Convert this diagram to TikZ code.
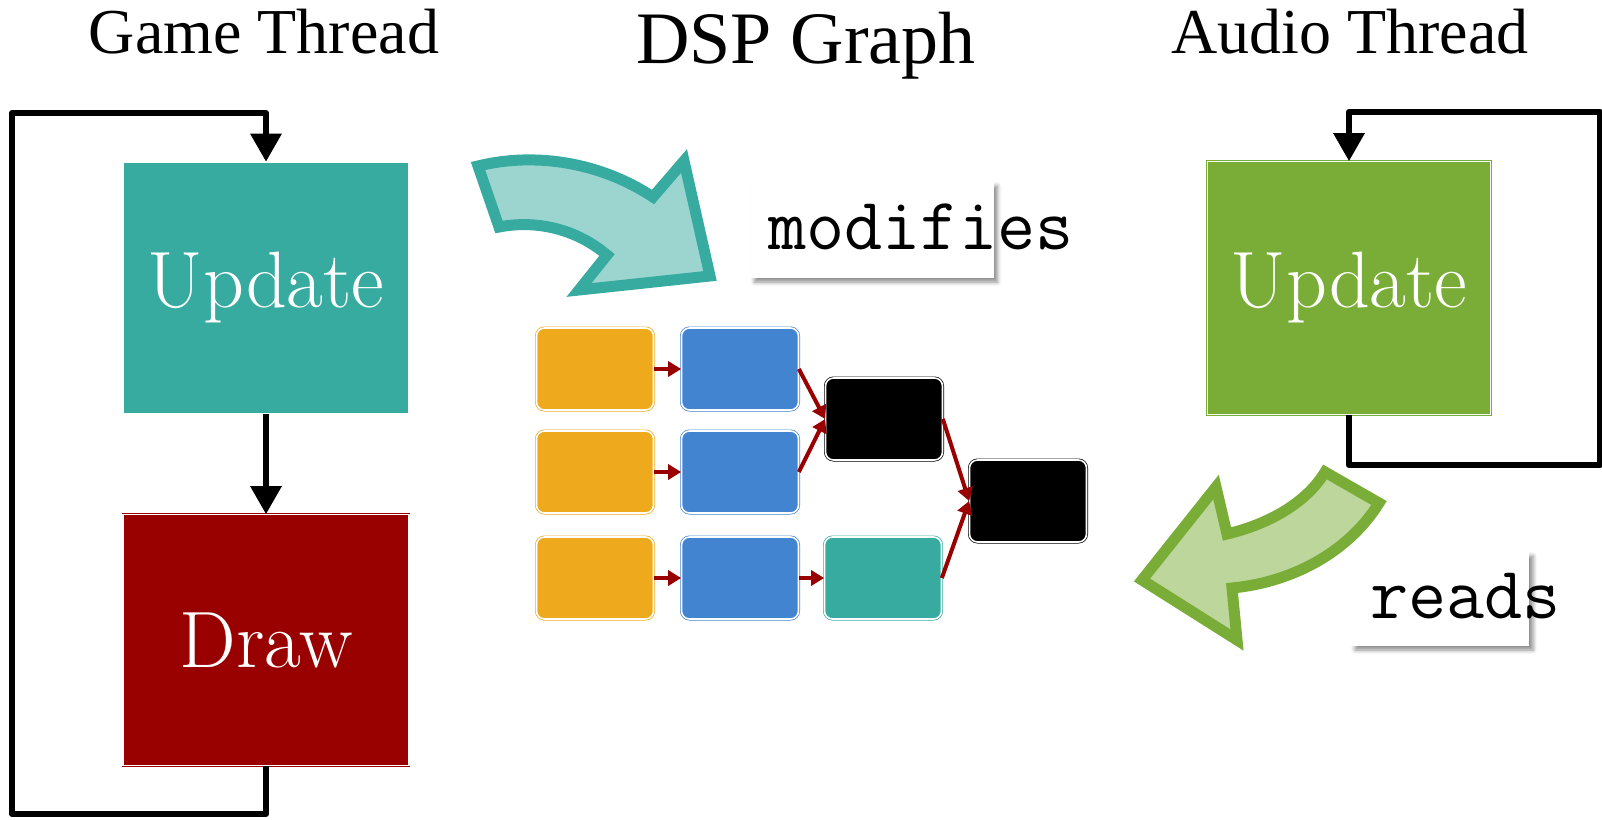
\documentclass[tikz,border=0pt]{standalone}
\usepackage{fontspec}
\newfontfamily\titlefont{Liberation Serif}
\usetikzlibrary{arrows.meta,shadows.blur,calc}
\definecolor{gameteal}{HTML}{37ABA0}
\definecolor{lightteal}{HTML}{9CD5CF}
\definecolor{audiogreen}{HTML}{7AAD37}
\definecolor{lightgreen}{HTML}{BCD69B}
\definecolor{drawred}{HTML}{990000}
\definecolor{srcorange}{HTML}{EEAA1C}
\definecolor{fxblue}{HTML}{4384D0}
\tikzset{
	stage/.style={draw=#1, fill=#1, double=white, line width=0.6pt, double distance=1.2pt, minimum width=286pt, minimum height=252pt, inner sep=0pt, text=white, font=\fontsize{80}{86}\selectfont},
	dsp/.style={draw=#1, fill=#1, double=white, line width=0.7pt, double distance=1.6pt, rounded corners=8pt, minimum width=117pt, minimum height=82pt, inner sep=0pt},
	loop/.style={line width=6pt, line join=round, -{Triangle[length=28pt,width=30pt]}},
	flow/.style={drawred, line width=4pt, -{Triangle[length=13pt,width=15pt]}},
	heading/.style={font=\titlefont\fontsize{64}{70}\selectfont, anchor=base, inner sep=0pt},
	tag/.style={fill=white, inner sep=0pt, blur shadow={shadow xshift=4pt, shadow yshift=-4pt, shadow blur radius=4pt, shadow opacity=45}},
	tagtext/.style={font=\ttfamily\fontsize{74}{80}\selectfont, anchor=base west, inner sep=0pt},
	bend/.style={draw=#1, line width=11pt, line join=miter},
}
\begin{document}
\begin{tikzpicture}[x=1pt, y=-1pt]
	\useasboundingbox (0,0) rectangle (1602,819);
	% titles
	\node[heading] (gt) at (264,53) {Game Thread};
	\node[heading, font=\titlefont\fontsize{74}{80}\selectfont] (dg) at (806,63) {DSP Graph};
	\node[heading] (at) at (1350,53) {Audio Thread};
	% game thread
	\node[stage=gameteal] (upd) at (266,288) {Update};
	\node[stage=drawred, minimum height=251pt] (drw) at (266,640) {Draw};
	\coordinate (gamebot) at (12,814); \coordinate (gametop) at (12,113);
	\draw[loop] (upd) -- (drw);
	\draw[loop] (drw.south) |- (gamebot) -- (gametop) -| (upd.north);
	% audio thread
	\node[stage=audiogreen, minimum width=283pt, minimum height=253pt] (aud) at (1349,288) {Update};
	\coordinate (audbot) at (1600,465); \coordinate (audtop) at (1600,112);
	\draw[loop] (aud.south) |- (audbot) -- (audtop) -| (aud.north);
	% graph
	\foreach \i/\y in {1/369,2/472,3/578} {
		\node[dsp=srcorange] (o\i) at (595,\y) {};
		\node[dsp=fxblue] (b\i) at (740,\y) {};
		\draw[flow] (o\i) -- (b\i);
	}
	\node[dsp=black] (k1) at (884,419) {};
	\node[dsp=gameteal] (t3) at (883,578) {};
	\node[dsp=black] (k2) at (1028,501) {};
	\draw[flow] (b1.east) -- (k1.west);
	\draw[flow] (b2.east) -- (k1.west);
	\draw[flow] (b3) -- (t3);
	\draw[flow] (k1.east) -- (k2.west);
	\draw[flow] (t3.east) -- (k2.west);
	% big arrows
	\draw[bend=gameteal, fill=lightteal] (478,166) -- (499,227) .. controls (535,220) and (575,228) .. (607,255) -- (579,290) -- (710,276) -- (684,161) -- (653,197) .. controls (600,162) and (535,152) .. (478,166) -- cycle;
	\draw[bend=audiogreen, fill=lightgreen] (1325,472) -- (1379,503) .. controls (1350,550) and (1295,582) .. (1232,588) -- (1237,640) -- (1142,580) -- (1216,487) -- (1227,534) .. controls (1265,525) and (1305,505) .. (1325,472) -- cycle;
	% labels
	\node[tag, minimum width=243pt, minimum height=96pt] (modbox) at (872,230) {};
	\node[tagtext] (modtext) at ($(modbox.west)+(18,19)$) {modifies};
	\node[tag, minimum width=178pt, minimum height=94pt] (rdbox) at (1440,599) {};
	\node[tagtext] (rdtext) at ($(rdbox.west)+(19,19)$) {reads};
\end{tikzpicture}
\end{document}
